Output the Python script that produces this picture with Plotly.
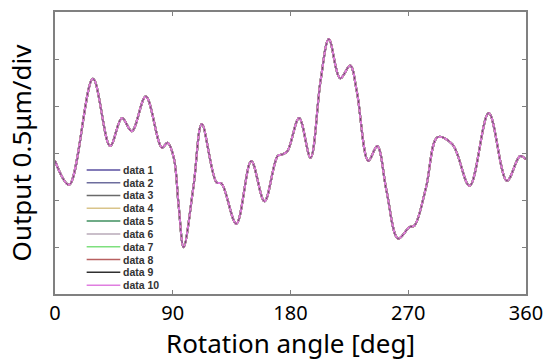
import plotly.graph_objects as go

# Rotation angle [deg]
angles = [0, 10.8, 29.0, 42.1, 51.2, 58.7, 69.4, 81.7, 86.0, 90.8, 94.5, 98.3,
          105.9, 112.2, 123.5, 127.3, 138.6, 150.0, 160.1, 170.2, 173.9, 177.7,
          186.6, 195.3, 202.9, 209.3, 218.0, 225.6, 230.7, 239.5, 246.3, 253.4,
          262.2, 270.9, 274.8, 283.6, 292.5, 303.8, 316.9, 331.5, 345.4, 355.5, 360]

# Output [um] (all ten runs overlap almost perfectly)
base_output = [-0.085, -0.338, 0.789, 0.074, 0.373, 0.232, 0.602, 0.056, 0.109, -0.050,
               -0.560, -1.003, -0.349, 0.309, -0.314, -0.324, -0.753, -0.085, -0.514,
               -0.032, -0.014, 0.021, 0.373, -0.050, 0.760, 1.212, 0.795, 0.930, 0.655,
               -0.085, 0.074, -0.401, -0.911, -0.789, -0.771, -0.367, 0.169, 0.092,
               -0.349, 0.426, -0.296, -0.032, -0.067]

series_names = ["data 1", "data 2", "data 3", "data 4", "data 5",
                "data 6", "data 7", "data 8", "data 9", "data 10"]
series_values = [base_output for _ in series_names]
series_colors = ["#5a4fa0", "#6d6d9d", "#6a6a6a", "#d9c48a", "#3f8f5f",
                 "#b8aab8", "#7ee07e", "#b86060", "#303030", "#e07ee0"]

x_ticks = [0, 90, 180, 270, 360]
x_ticklabels = ["0", "90", "180", "270", "360"]
y_ticks = [-1.5, -1.0, -0.5, 0.0, 0.5, 1.0, 1.5]

fig = go.Figure()
draw_order = [0, 1, 2, 3, 4, 5, 6, 7, 9, 8]
for i in draw_order:
    dash = "dot" if i == 8 else "solid"
    width = 1.0 if i == 8 else 2.0
    fig.add_trace(go.Scatter(
        x=angles, y=series_values[i], mode="lines", name=series_names[i],
        line=dict(color=series_colors[i], width=width, shape="spline", dash=dash),
        opacity=0.7 if i == 8 else 1.0,
        showlegend=False))

# manual legend (compact rows like the original)
L, R, T, B = 55, 22, 10, 67
W, H = 553, 361
pw, ph = W - L - R, H - T - B
def px2x(px):
    return (px - L) / pw
def py2y(py):
    return (H - B - py) / ph

for i, name in enumerate(series_names):
    py = 169 + i * 12.9
    fig.add_shape(type="line", xref="paper", yref="paper",
                  x0=px2x(87), x1=px2x(121), y0=py2y(py), y1=py2y(py),
                  line=dict(color=series_colors[i], width=1.5))
    fig.add_annotation(xref="paper", yref="paper", x=px2x(123), y=py2y(py),
                       text="<b>" + name + "</b>", showarrow=False,
                       xanchor="left", yanchor="middle", borderpad=0,
                       font=dict(family="Liberation Sans", size=10.5, color="#333333"))

fig.update_layout(
    width=W, height=H,
    margin=dict(l=L, r=R, t=T, b=B),
    plot_bgcolor="white", paper_bgcolor="white",
    showlegend=False,
    xaxis=dict(range=[0, 360], tickvals=x_ticks, ticktext=x_ticklabels,
               ticks="inside", ticklen=4, tickcolor="#808080",
               showline=True, linecolor="#808080", linewidth=1.5, mirror="ticks",
               showgrid=False, zeroline=False,
               tickfont=dict(family="Noto Sans", size=20, color="black"),
               title=dict(text="Rotation angle [deg]", standoff=6,
                          font=dict(family="Noto Sans", size=26, color="black"))),
    yaxis=dict(range=[-1.5, 1.5], tickvals=y_ticks, showticklabels=False,
               ticks="inside", ticklen=4, tickcolor="#808080",
               showline=True, linecolor="#808080", linewidth=1.5, mirror="ticks",
               showgrid=False, zeroline=False,
               title=dict(text="Output 0.5μm/div", standoff=14,
                          font=dict(family="Noto Sans", size=26, color="black"))),
)

fig.write_html("out.html")
